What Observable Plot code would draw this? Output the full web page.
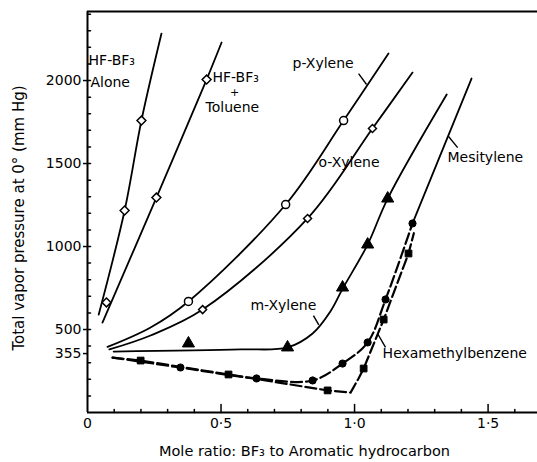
<!DOCTYPE html>
<html>
<head>
<meta charset="utf-8">
<script src="https://cdn.jsdelivr.net/npm/d3@7"></script>
<script src="https://cdn.jsdelivr.net/npm/@observablehq/plot@0.6"></script>
<style>
  html, body { margin: 0; padding: 0; background: #fff; }
  svg { display: block; }
</style>
</head>
<body>
<div id="chart"></div>
<script>
// ---- axis / tick data ----
const X_MAX = 1.685;
const Y_MAX = 2416;
const xTicksMajor = [0, 0.5, 1.0, 1.5];
const xTickLabels = ["0", "0·5", "1·0", "1·5"];
const xTicksMinor = [0.1, 0.2, 0.3, 0.4, 0.6, 0.7, 0.8, 0.9, 1.1, 1.2, 1.3, 1.4, 1.6];
const yTicksLabeled = [355, 500, 1000, 1500, 2000];
const yTicksMinor = [100, 200, 300, 400, 500, 600, 700, 800, 900, 1000, 1100, 1200, 1300, 1400, 1500, 1600, 1700, 1800, 1900, 2000, 2100, 2200, 2300, 2400];

// ---- curves ----
const aloneCurve = [[0.042, 590], [0.139, 1217], [0.202, 1759], [0.277, 2283]];
const alonePts = [[0.071, 663], [0.139, 1217], [0.202, 1759]];

const tolueneCurve = [[0.056, 542], [0.258, 1295], [0.446, 2006], [0.502, 2229]];
const toluenePts = [[0.258, 1295], [0.446, 2006]];

const pXyleneCurve = [[0.075, 395], [0.236, 512], [0.378, 669], [0.742, 1253], [0.959, 1759], [1.127, 2163]];
const pXylenePts = [[0.378, 669], [0.742, 1253], [0.959, 1759]];

const oXyleneCurve = [[0.082, 380], [0.236, 464], [0.431, 620], [0.824, 1169], [1.067, 1711], [1.217, 2048]];
const oXylenePts = [[0.431, 620], [0.824, 1169], [1.067, 1711]];

const mXyleneCurve = [[0.098, 367], [0.573, 380], [0.749, 392], [0.843, 476], [0.91, 610], [0.955, 745], [1.049, 1012], [1.124, 1289], [1.345, 1916]];
const mXylenePts = [[0.378, 416], [0.749, 392], [0.955, 753], [1.049, 1012], [1.124, 1289]];

const mesityleneDashed = [[0.094, 331], [0.348, 271], [0.633, 205], [0.843, 193], [0.955, 295], [1.049, 422], [1.116, 681], [1.217, 1139]];
const mesityleneSolid = [[1.217, 1139], [1.438, 2012]];
const mesitylenePts = [[0.348, 271], [0.633, 205], [0.843, 193], [0.955, 295], [1.049, 422], [1.116, 681], [1.217, 1139]];

const hexaCurve = [[0.094, 331], [0.199, 313], [0.528, 229], [0.899, 133], [0.985, 120], [1.015, 205], [1.034, 265], [1.109, 560], [1.202, 958], [1.222, 1080]];
const hexaPts = [[0.199, 313], [0.528, 229], [0.899, 133], [1.034, 265], [1.109, 560], [1.202, 958]];

// ---- annotations ----
const labelText = ["HF-BF₃", "Alone", "HF-BF₃", "Toluene", "p-Xylene", "o-Xylene", "Mesitylene", "m-Xylene", "Hexamethylbenzene"];
const labelX = [0.004, 0.011, 0.468, 0.442, 0.768, 0.865, 1.348, 0.610, 1.105];
const labelY = [2120, 1988, 2018, 1837, 2102, 1506, 1536, 645, 355];
const plusSign = [{x: 0.551, y: 1928, t: "+"}];
const leaderX1 = [1.015, 1.386, 0.846, 1.116];
const leaderY1 = [2042, 1596, 584, 392];
const leaderX2 = [1.045, 1.352, 0.866, 1.086];
const leaderY2 = [1976, 1663, 528, 476];

const labels = labelText.map((t, i) => ({t, x: labelX[i], y: labelY[i]}));
const leaders = leaderX1.map((x1, i) => ({x1, y1: leaderY1[i], x2: leaderX2[i], y2: leaderY2[i]}));

const FONT = "DejaVu Sans";
const px = d => d[0], py = d => d[1];
const tickShape = {draw(context, l) { context.moveTo(0, 0); context.lineTo(0, -l); }};
const LW = 1.8;

const openDot = (data, symbol, r) => Plot.dot(data, {x: px, y: py, symbol, r, fill: "white", stroke: "black", strokeWidth: 1.5});
const fillDot = (data, symbol, r) => Plot.dot(data, {x: px, y: py, symbol, r, fill: "black", stroke: "black", strokeWidth: 1});

const chart = Plot.plot({
  width: 537,
  height: 462,
  marginLeft: 87,
  marginRight: 0,
  marginTop: 11,
  marginBottom: 50,
  style: {fontFamily: FONT, fontSize: "13px", background: "white", color: "black"},
  x: {domain: [0, X_MAX]},
  y: {domain: [0, Y_MAX]},
  marks: [
    // frame lines
    Plot.ruleY([0], {stroke: "black", strokeWidth: 2}),
    Plot.ruleX([0], {stroke: "black", strokeWidth: 2}),
    Plot.ruleY([Y_MAX], {stroke: "black", strokeWidth: 2}),
    // ticks
    Plot.vector(xTicksMinor, {x: d => d, y: 0, length: 3, rotate: 0, anchor: "start", shape: tickShape, stroke: "black", strokeWidth: 1.5}),
    Plot.vector(xTicksMajor.slice(1), {x: d => d, y: 0, length: 8, rotate: 0, anchor: "start", shape: tickShape, stroke: "black", strokeWidth: 1.5}),
    Plot.vector(yTicksMinor, {x: 0, y: d => d, length: 3, rotate: 90, anchor: "start", shape: tickShape, stroke: "black", strokeWidth: 1.5}),
    Plot.axisX({ticks: xTicksMajor, tickFormat: d => xTickLabels[xTicksMajor.indexOf(d)], tickSize: 0, tickPadding: 6, label: null, fontSize: 14, style: {letterSpacing: "1px"}}),
    Plot.axisY({ticks: yTicksLabeled, tickFormat: d => String(d), tickSize: 4, tickPadding: 2, label: null, fontSize: 14, strokeWidth: 1.5, style: {letterSpacing: "1px"}}),
    // axis titles
    Plot.text(["Mole ratio: BF₃ to Aromatic hydrocarbon"], {frameAnchor: "bottom", textAnchor: "middle", lineAnchor: "middle", dx: -8, dy: 39, fontSize: 14.5, style: {letterSpacing: "2px", wordSpacing: "5px"}}),
    Plot.text(["Total vapor pressure at 0° (mm Hg)"], {frameAnchor: "left", textAnchor: "middle", lineAnchor: "middle", dx: -68, dy: 6, rotate: -90, fontSize: 15, style: {letterSpacing: "2px"}}),
    // curves
    Plot.line(aloneCurve, {x: px, y: py, curve: "catmull-rom", stroke: "black", strokeWidth: LW}),
    Plot.line(tolueneCurve, {x: px, y: py, curve: "catmull-rom", stroke: "black", strokeWidth: LW}),
    Plot.line(pXyleneCurve, {x: px, y: py, curve: "catmull-rom", stroke: "black", strokeWidth: LW}),
    Plot.line(oXyleneCurve, {x: px, y: py, curve: "catmull-rom", stroke: "black", strokeWidth: LW}),
    Plot.line(mXyleneCurve, {x: px, y: py, curve: "catmull-rom", stroke: "black", strokeWidth: LW}),
    Plot.line(mesityleneDashed, {x: px, y: py, curve: "catmull-rom", stroke: "black", strokeWidth: 2.2, strokeDasharray: "11,4"}),
    Plot.line(mesityleneSolid, {x: px, y: py, stroke: "black", strokeWidth: LW}),
    Plot.line(hexaCurve, {x: px, y: py, curve: "linear", stroke: "black", strokeWidth: 2.2, strokeDasharray: "11,4"}),
    // markers
    openDot(alonePts, "diamond2", 4),
    openDot(toluenePts, "diamond2", 4),
    openDot(pXylenePts, "circle", 4),
    openDot(oXylenePts, "diamond2", 3.6),
    fillDot(mXylenePts, "triangle", 4.5),
    fillDot(mesitylenePts, "circle", 3.6),
    fillDot(hexaPts, "square", 3.8),
    // annotations
    Plot.text(labels, {x: "x", y: "y", text: "t", textAnchor: "start", fontSize: 14, style: {letterSpacing: "1.4px"}}),
    Plot.text(plusSign, {x: "x", y: "y", text: "t", fontSize: 11}),
    Plot.link(leaders, {x1: "x1", y1: "y1", x2: "x2", y2: "y2", stroke: "black", strokeWidth: 1.4})
  ]
});
document.getElementById("chart").appendChild(chart);
</script>
</body>
</html>
